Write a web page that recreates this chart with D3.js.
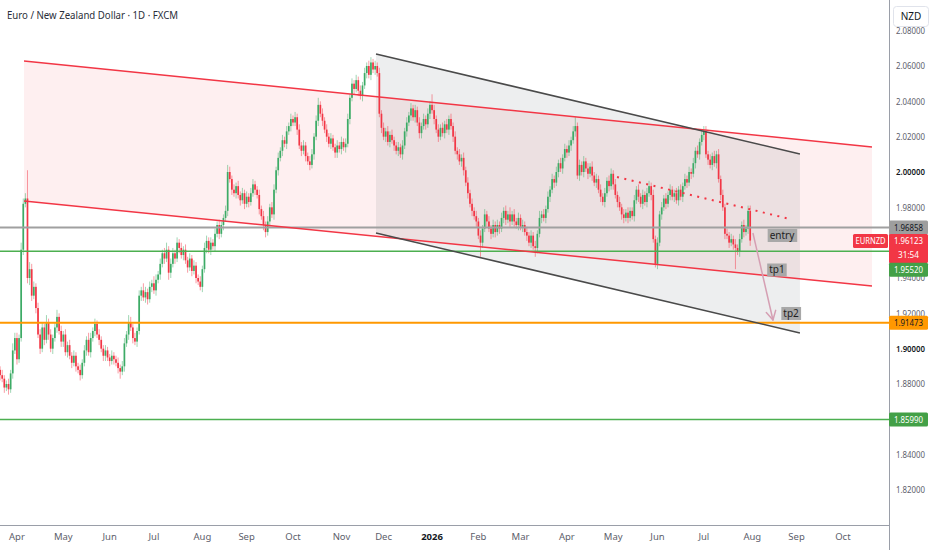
<!DOCTYPE html>
<html><head><meta charset="utf-8">
<script src="https://cdn.jsdelivr.net/npm/d3@7"></script>
<style>body{margin:0;background:#fff;overflow:hidden}svg{display:block;font-family:"Noto Sans",sans-serif}</style>
</head><body><svg id="c" width="932" height="550"></svg>
<script>
// ---------- data ----------
const title = "Euro / New Zealand Dollar · 1D · FXCM";
const startDate = "2025-03-20";
const firstOpen = 18880; // price * 10000
const closes = [
18850,18830,18780,18800,18770,18860,18990,19060,18940,19060,
19560,19820,19850,19400,19450,19300,19350,19230,19080,19000,
19120,19050,19150,19080,19000,19060,19120,19180,19100,19040,
19080,18980,19020,18960,18920,18960,18900,18880,18850,18920,
18990,19050,18980,19060,19100,19140,19080,19050,19000,18960,
18990,18950,18930,18960,18940,18920,18890,18870,18900,19030,
19080,19150,19120,19060,19040,19100,19300,19330,19290,19320,
19280,19350,19370,19330,19390,19420,19480,19540,19510,19560,
19430,19480,19540,19510,19600,19570,19530,19560,19500,19460,
19510,19440,19470,19400,19380,19350,19450,19570,19610,19560,
19600,19580,19650,19700,19650,19700,19740,19780,20000,19960,
19900,19880,19920,19870,19840,19880,19820,19860,19830,19880,
19930,19900,19870,19790,19750,19700,19660,19720,19800,19760,
19900,20010,20080,20120,20180,20160,20230,20260,20300,20280,
20310,20240,20150,20120,20150,20090,20060,20040,20100,20200,
20290,20380,20330,20290,20240,20200,20160,20190,20140,20110,
20150,20130,20170,20140,20160,20300,20420,20500,20470,20520,
20460,20430,20490,20560,20600,20550,20620,20580,20600,20560,
20330,20250,20200,20230,20170,20210,20180,20150,20120,20140,
20100,20150,20230,20280,20320,20360,20310,20350,20280,20220,
20260,20300,20270,20330,20380,20350,20300,20240,20200,20250,
20220,20270,20240,20300,20260,20200,20120,20100,20060,20080,
20010,19940,19880,19820,19780,19750,19720,19640,19600,19680,
19760,19720,19680,19650,19700,19660,19700,19680,19740,19780,
19730,19760,19720,19760,19720,19700,19740,19690,19700,19660,
19640,19600,19640,19580,19570,19650,19740,19760,19740,19790,
19860,19900,19960,19940,20000,20050,20020,20080,20130,20110,
20150,20180,20230,20260,19980,20040,20000,20060,20020,19990,
20030,19980,19940,19960,19900,19860,19830,19880,19950,19920,
19990,19930,19870,19830,19800,19760,19740,19770,19740,19780,
19750,19840,19900,19860,19820,19870,19830,19880,19920,19870,
19620,19480,19600,19760,19800,19850,19820,19870,19900,19860,
19880,19840,19900,19860,19920,19960,19940,20000,19990,20050,
20120,20100,20170,20210,20230,20100,20070,20040,20090,20050,
20100,19960,19870,19800,19650,19640,19600,19620,19590,19570,
19550,19620,19700,19660,19680,19780,19612];
// wick extensions above / below the body, in units of 0.0010
const wickHi = [
2,3,2,2,3,2,4,3,3,2, 4,3,3,16,4,3,3,2,3,3, 3,2,4,2,3,2,3,4,2,3, 2,3,2,3,2,3,2,2,3,2,
3,2,4,3,2,3,2,3,2,2, 3,2,2,3,2,2,3,2,3,3, 2,4,3,2,3,2,3,2,4,3, 2,3,2,4,3,2,3,2,3,4,
2,3,3,2,3,2,3,2,3,2, 3,2,3,2,2,3,2,3,3,2, 3,2,3,2,3,2,2,3,4,3, 2,3,2,3,2,3,2,3,2,3,
3,2,2,3,2,3,2,3,2,3, 3,2,3,2,3,2,3,2,3,2, 3,2,3,2,3,2,2,3,3,2, 3,4,2,3,2,3,2,3,2,2,
3,2,3,2,3,3,2,3,2,3, 2,3,2,3,2,3,3,2,3,2, 3,2,3,2,3,2,3,2,2,3, 2,3,2,3,2,3,2,3,2,3,
2,3,2,3,2,6,3,2,3,2, 3,2,3,2,3,2,3,2,3,2, 3,2,3,2,3,2,3,2,3,2, 3,2,3,2,3,2,3,2,3,2,
3,2,4,2,3,2,3,2,3,2, 3,2,3,2,3,2,4,2,3,2, 3,2,3,2,3,2,3,2,3,2, 3,2,3,5,2,3,2,3,2,3,
2,3,2,3,2,3,2,3,2,3, 3,2,3,2,3,2,3,2,3,2, 2,3,2,3,2,3,2,3,3,2, 3,2,3,2,3,2,3,2,3,2,
2,3,2,3,2,3,2,3,2,3, 2,3,2,3,3,3,2,3,2,3, 2,3,2,3,2,3,2,3,2,3, 2,3,2,3,2,3,3];
const wickLo = [
3,2,3,2,3,2,3,2,3,2, 2,3,2,3,4,3,2,3,2,3, 2,3,2,3,2,3,2,3,2,3, 3,2,3,2,3,2,3,2,3,2,
2,3,2,3,2,3,2,3,2,3, 3,2,3,2,3,2,3,4,2,3, 2,3,2,3,2,3,2,3,2,3, 3,2,3,2,3,2,3,2,3,2,
4,3,2,3,2,3,2,3,2,3, 2,3,2,3,2,2,3,2,3,2, 3,2,3,2,3,2,3,2,3,2, 3,2,3,2,3,2,3,2,3,2,
2,3,2,3,2,3,3,2,3,2, 3,2,3,2,3,2,3,2,3,2, 2,3,2,3,2,3,2,3,2,3, 2,3,2,3,2,3,2,3,2,3,
3,2,3,2,3,2,3,2,3,2, 3,2,3,2,3,2,3,2,3,2, 2,3,2,3,2,3,2,3,2,3, 2,3,2,3,2,3,2,3,2,3,
3,2,3,2,3,2,3,2,3,2, 2,3,2,3,2,3,2,3,2,3, 3,2,3,2,3,2,3,2,8,3, 2,3,2,3,2,3,2,3,2,3,
3,2,3,2,3,2,3,2,3,2, 3,2,3,2,5,3,2,3,2,3, 2,3,2,3,2,3,2,3,2,3, 2,3,2,3,2,3,2,3,2,3,
2,3,2,3,2,3,2,3,2,3, 2,3,2,3,2,3,3,2,3,2, 2,3,2,3,2,3,2,3,2,3, 2,2,3,2,3,2,3,2,3,2,
3,2,3,2,3,2,3,2,3,2, 3,2,3,2,3,2,3,2,3,2, 3,2,3,2,3,2,3,2,3,12, 2,3,2,3,2,3,3];

const priceTicks = [2.08,2.06,2.04,2.02,2.00,1.98,1.94,1.92,1.90,1.88,1.84,1.82];
const strongTicks = [2.00,1.90];
const levelPrices = [1.96858, 1.95520, 1.91473, 1.85990];
const lastPrice = 1.96123;
const symbol = "EURNZD";
const countdown = "31:54";
const currency = "NZD";
// drawings: [bar index, price]
const redChannel = {a:[11.34,2.06283], b:[413.8,2.01415], a2:[11.34,1.98359], b2:[413.8,1.93547]};
const grayChannel = {a:[178.4,2.06679], b:[379.6,2.01019], a2:[178.4,1.96547], b2:[379.6,1.90887]};
const dottedTrend = [[292.8,1.99717],[374.9,1.97340]];
const arrowPath = [[357.3,1.96547],[366.8,1.91623]];
const noteLabels = [{t:"entry",at:[371.1,1.96406]},{t:"tp1",at:[368.7,1.94453]},{t:"tp2",at:[375.4,1.91991]}];

// ---------- styles ----------
const W=932,H=550, PR=889, PB=525;
const UP="#3dab66", DN="#f23645";
const levelColors=["#a0a0a0","#4caf50","#ff9800","#4caf50"];
const levelWidths=[2,1.5,2,1.5];
const fontAxis='"Noto Sans",sans-serif';

// ---------- build ----------
const svg=d3.select("#c");
const x=d3.scaleLinear().domain([0,400]).range([0.1,0.1+2.107*400]);
const y=d3.scaleLinear().domain([1.82,2.06]).range([490,66]);

// dates (business days)
const dates=[]; {let d=new Date(startDate+"T00:00:00Z"); while(dates.length<460){const wd=d.getUTCDay(); if(wd!==0&&wd!==6) dates.push(new Date(d)); d=new Date(d.getTime()+864e5);} }

const data=closes.map((c,i)=>{const o=i?closes[i-1]:firstOpen;return {i,o:o/1e4,c:c/1e4,h:(Math.max(o,c)+wickHi[i]*10)/1e4,l:(Math.min(o,c)-wickLo[i]*10)/1e4};});

svg.append("rect").attr("width",W).attr("height",H).attr("fill","#fff");
svg.append("defs").append("clipPath").attr("id","pc").append("rect").attr("width",PR).attr("height",PB);
const plot=svg.append("g").attr("clip-path","url(#pc)");

const P=p=>[x(p[0]),y(p[1])];
function chan(ch,fill,stroke,sw){
  const pts=[P(ch.a),P(ch.b),P(ch.b2),P(ch.a2)];
  plot.append("path").attr("d","M"+pts.join("L")+"Z").attr("fill",fill);
  return ()=>{[[ch.a,ch.b],[ch.a2,ch.b2]].forEach(([p,q])=>plot.append("line").attr("x1",x(p[0])).attr("y1",y(p[1])).attr("x2",x(q[0])).attr("y2",y(q[1])).attr("stroke",stroke).attr("stroke-width",sw));};
}
const redLines=chan(redChannel,"rgba(242,54,69,0.08)","#f23645",1.5);
const grayLines=chan(grayChannel,"rgba(110,114,126,0.12)","#4a4a4a",1.5);

// candles
const cg=plot.append("g");
cg.selectAll("line.w").data(data).join("line").attr("class","w")
 .attr("x1",d=>x(d.i)).attr("x2",d=>x(d.i)).attr("y1",d=>y(d.h)).attr("y2",d=>y(d.l))
 .attr("stroke",d=>d.c>=d.o?UP:DN).attr("stroke-opacity",0.55).attr("stroke-width",0.9);
cg.selectAll("rect").data(data).join("rect")
 .attr("x",d=>x(d.i)-0.85).attr("width",1.7)
 .attr("y",d=>y(Math.max(d.o,d.c))).attr("height",d=>Math.max(0.8,Math.abs(y(d.o)-y(d.c))))
 .attr("fill",d=>d.c>=d.o?UP:DN);

// horizontal levels
levelPrices.forEach((p,k)=>plot.append("line").attr("x1",0).attr("x2",PR).attr("y1",y(p)).attr("y2",y(p)).attr("stroke",levelColors[k]).attr("stroke-width",levelWidths[k]));
redLines(); grayLines();

// dotted trend
plot.append("line").attr("x1",x(dottedTrend[0][0])).attr("y1",y(dottedTrend[0][1])).attr("x2",x(dottedTrend[1][0])).attr("y2",y(dottedTrend[1][1]))
 .attr("stroke","#f23645").attr("stroke-width",2).attr("stroke-dasharray","2,5.5");

// arrow
{const [x1,y1]=P(arrowPath[0]),[x2,y2]=P(arrowPath[1]);const col="#d59fb3";
 plot.append("line").attr("x1",x1).attr("y1",y1).attr("x2",x2).attr("y2",y2).attr("stroke",col).attr("stroke-width",1.5);
 const ang=Math.atan2(y2-y1,x2-x1),L=10,sp=0.5;
 [ang+Math.PI-sp,ang+Math.PI+sp].forEach(a=>plot.append("line").attr("x1",x2).attr("y1",y2).attr("x2",x2+L*Math.cos(a)).attr("y2",y2+L*Math.sin(a)).attr("stroke",col).attr("stroke-width",1.5).attr("stroke-linecap","round"));}

// note labels
noteLabels.forEach(n=>{const [cx,cy]=P(n.at);const g=plot.append("g");
 const t=g.append("text").attr("x",cx).attr("y",cy+3.5).attr("text-anchor","middle").attr("font-size",10).attr("fill","#1e1e1e").text(n.t);
 const bb=t.node().getBBox();
 g.insert("rect","text").attr("x",bb.x-2).attr("y",cy-6.5).attr("width",bb.width+4).attr("height",13).attr("fill","#a8a8a8");});

// axes lines
svg.append("line").attr("x1",PR+0.5).attr("x2",PR+0.5).attr("y1",0).attr("y2",H).attr("stroke","#9a9ea8").attr("stroke-width",1);
svg.append("line").attr("x1",0).attr("x2",PR).attr("y1",PB+0.5).attr("y2",PB+0.5).attr("stroke","#9a9ea8").attr("stroke-width",1);

// price ticks
const yAx=svg.append("g");
priceTicks.forEach(p=>yAx.append("text").attr("x",896).attr("y",y(p)+3.3).attr("font-size",9.5).attr("font-family",fontAxis)
 .attr("textLength",29).attr("lengthAdjust","spacingAndGlyphs")
 .attr("fill",strongTicks.includes(p)?"#131722":"#5d606b").attr("font-weight",strongTicks.includes(p)?600:400).text(p.toFixed(5)));

// month labels
const xAx=svg.append("g");
let prevM=-1;
dates.forEach((d,i)=>{const m=d.getUTCMonth();if(m!==prevM){prevM=m; if(i>0 || d.getUTCDate()===1){const xx=x(i); if(xx>5&&xx<PR-10){
 const isY=m===0; xAx.append("text").attr("x",xx).attr("y",540).attr("text-anchor","middle").attr("font-size",9.5).attr("font-family",fontAxis)
 .attr("fill",isY?"#131722":"#5d606b").attr("font-weight",isY?700:400).text(isY?String(d.getUTCFullYear()):d3.utcFormat("%b")(d));}}}});

// price boxes
function box(yc,h,bg,lines,fg){const g=svg.append("g");g.append("rect").attr("x",PR).attr("y",yc-7).attr("width",39).attr("height",h).attr("fill",bg).attr("rx",1.5);
 lines.forEach((s,k)=>g.append("text").attr("x",PR+19.5).attr("y",yc+3.4+k*14).attr("text-anchor","middle").attr("font-size",9.5).attr("font-family",fontAxis)
 .attr("textLength",s.length>5?29:21).attr("lengthAdjust","spacingAndGlyphs").attr("fill",fg).text(s));}
box(y(levelPrices[0]),14,"#9e9e9e",[levelPrices[0].toFixed(5)],"#131722");
box(y(lastPrice)+0.5,29,"#f23645",[lastPrice.toFixed(5),countdown],"#fff");
box(y(levelPrices[1])+18.5,14,"#43a047",[levelPrices[1].toFixed(5)],"#fff");
box(y(levelPrices[2]),14,"#ff9800",[levelPrices[2].toFixed(5)],"#131722");
box(y(levelPrices[3]),14,"#43a047",[levelPrices[3].toFixed(5)],"#fff");
// symbol tag
{const yc=y(lastPrice)+0.5;svg.append("rect").attr("x",853).attr("y",yc-7).attr("width",35).attr("height",14).attr("fill","#f23645").attr("rx",1.5);
 svg.append("text").attr("x",870.5).attr("y",yc+3.4).attr("text-anchor","middle").attr("font-size",9).attr("font-family",fontAxis)
 .attr("textLength",30).attr("lengthAdjust","spacingAndGlyphs").attr("fill","#fff").text(symbol);}

// currency box
svg.append("rect").attr("x",893.5).attr("y",6.5).attr("width",35).attr("height",20).attr("rx",3).attr("fill","#fff").attr("stroke","#e0e3eb");
svg.append("text").attr("x",911).attr("y",20).attr("text-anchor","middle").attr("font-size",10).attr("font-family",fontAxis).attr("fill","#131722").text(currency);

// title
svg.append("text").attr("x",7).attr("y",19).attr("font-size",10.5).attr("font-family",fontAxis).attr("fill","#2a2e39")
 .attr("textLength",171).attr("lengthAdjust","spacingAndGlyphs").text(title);
</script></body></html>
